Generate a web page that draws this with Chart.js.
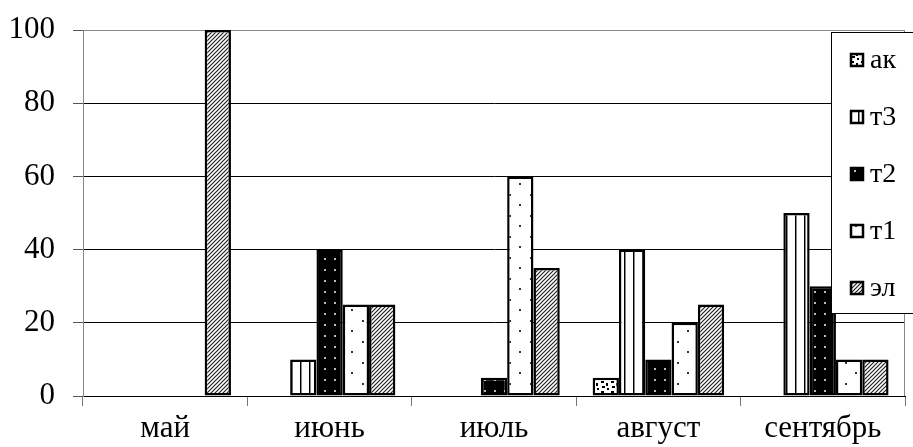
<!DOCTYPE html>
<html>
<head>
<meta charset="utf-8">
<script src="https://cdn.jsdelivr.net/npm/chart.js@4.4.0/dist/chart.umd.min.js"></script>
<style>
html,body{margin:0;padding:0;background:#fff;}
#wrap{width:913px;height:447px;position:relative;}
</style>
</head>
<body>
<div id="wrap"><canvas id="c" width="913" height="447"></canvas></div>
<script>
const categories = ['май', 'июнь', 'июль', 'август', 'сентябрь'];
const seriesNames = ['ак', 'т3', 'т2', 'т1', 'эл'];
const akValues = [0, 0, 0, 5, 0];
const t3Values = [0, 10, 0, 40, 50];
const t2Values = [0, 40, 5, 10, 30];
const t1Values = [0, 25, 60, 20, 10];
const elValues = [100, 25, 35, 25, 10];
const yTicks = [0, 20, 40, 60, 80, 100];

function makePattern(w, h, draw) {
  const c = document.createElement('canvas');
  c.width = w; c.height = h;
  const g = c.getContext('2d');
  draw(g, w, h);
  return document.getElementById('c').getContext('2d').createPattern(c, 'repeat');
}
const patAk = makePattern(10, 10, (g) => {
  g.fillStyle = '#fff'; g.fillRect(0, 0, 10, 10);
  g.fillStyle = '#000';
  g.fillRect(1, 1, 3, 2); g.fillRect(6, 3, 2, 3); g.fillRect(2, 6, 3, 2); g.fillRect(7, 8, 2, 2);
});
const patT3 = makePattern(9, 4, (g) => {
  g.fillStyle = '#fff'; g.fillRect(0, 0, 9, 4);
  g.fillStyle = '#000'; g.fillRect(3, 0, 1, 4);
  g.fillStyle = '#888'; g.fillRect(4, 0, 1, 4);
});
const patT2 = makePattern(10, 11, (g) => {
  g.fillStyle = '#000'; g.fillRect(0, 0, 10, 11);
  g.fillStyle = '#bbb'; g.fillRect(4, 5, 2, 2);
});
const patT1 = makePattern(21, 21, (g) => {
  g.fillStyle = '#fff'; g.fillRect(0, 0, 21, 21);
  g.fillStyle = '#333'; g.fillRect(5, 5, 2, 2); g.fillRect(15, 15, 2, 2);
});
const patEl = makePattern(4, 4, (g) => {
  g.fillStyle = '#fff'; g.fillRect(0, 0, 4, 4);
  g.strokeStyle = '#222'; g.lineWidth = 1.2;
  g.beginPath();
  g.moveTo(-1, 5); g.lineTo(5, -1);
  g.moveTo(-1, 1); g.lineTo(1, -1);
  g.moveTo(3, 5); g.lineTo(5, 3);
  g.stroke();
});
const patterns = [patAk, patT3, patT2, patT1, patEl];
const valueSets = [akValues, t3Values, t2Values, t1Values, elValues];

const FONT = "'Liberation Serif', 'Times New Roman', serif";

const legendPlugin = {
  id: 'boxLegend',
  afterDraw(chart) {
    const ctx = chart.ctx;
    const x0 = 831, y0 = 32, x1 = 920, y1 = 313;
    ctx.save();
    ctx.fillStyle = '#fff';
    ctx.fillRect(x0, y0, x1 - x0, y1 - y0);
    ctx.strokeStyle = '#000'; ctx.lineWidth = 1;
    ctx.strokeRect(x0 + 0.5, y0 + 0.5, x1 - x0, y1 - y0);
    ctx.font = '28px "Liberation Serif"';
    ctx.textBaseline = 'middle';
    ctx.textAlign = 'left';
    chart.data.datasets.forEach((ds, i) => {
      const y = 60 + 57 * i;
      ctx.fillStyle = ds.backgroundColor;
      ctx.fillRect(851, y - 6, 12, 12);
      ctx.strokeStyle = '#000'; ctx.lineWidth = 2.5;
      ctx.strokeRect(851, y - 6, 12, 12);
      ctx.fillStyle = '#000';
      ctx.fillText(ds.label, 870, y + 1);
    });
    ctx.restore();
  }
};

const borderPlugin = {
  id: 'plotBorder',
  beforeDatasetsDraw(chart) {
    const a = chart.chartArea, ctx = chart.ctx;
    ctx.save();
    ctx.strokeStyle = '#888'; ctx.lineWidth = 1;
    ctx.beginPath();
    ctx.moveTo(a.left + 0.5, a.bottom); ctx.lineTo(a.left + 0.5, a.top + 0.5);
    ctx.lineTo(a.right - 0.5, a.top + 0.5); ctx.lineTo(a.right - 0.5, a.bottom);
    ctx.stroke();
    ctx.restore();
  }
};

new Chart(document.getElementById('c'), {
  type: 'bar',
  data: {
    labels: categories,
    datasets: seriesNames.map((n, i) => ({
      label: n,
      data: valueSets[i],
      backgroundColor: patterns[i],
      borderColor: '#000',
      borderWidth: 2.5,
      borderSkipped: false,
      categoryPercentage: 0.8,
      barPercentage: 1.0
    }))
  },
  options: {
    responsive: false,
    animation: false,
    layout: { padding: { top: 30, right: 8, left: 0, bottom: 0 } },
    plugins: { legend: { display: false }, tooltip: { enabled: false } },
    scales: {
      x: {
        grid: { display: true, drawOnChartArea: false, tickLength: 10, color: '#777', offset: true },
        border: { display: true, color: '#000', width: 1 },
        ticks: { color: '#000', font: { family: FONT, size: 31 }, padding: 4, maxRotation: 0 },
        afterFit(s) { s.height = 51; s.paddingLeft = 0; s.paddingRight = 0; }
      },
      y: {
        min: 0, max: 100,
        afterBuildTicks(s) { s.ticks = yTicks.map(v => ({ value: v })); },
        grid: {
          color: (c) => (c.tick && c.tick.value === 100) ? '#888' : '#000',
          tickColor: '#555',
          tickLength: 10
        },
        border: { display: true, color: '#888', width: 1 },
        ticks: { color: '#000', font: { family: FONT, size: 31 }, padding: 18 },
        afterFit(s) { s.width = 83; s.paddingTop = 0; s.paddingBottom = 0; }
      }
    }
  },
  plugins: [borderPlugin, legendPlugin]
});
</script>
</body>
</html>
